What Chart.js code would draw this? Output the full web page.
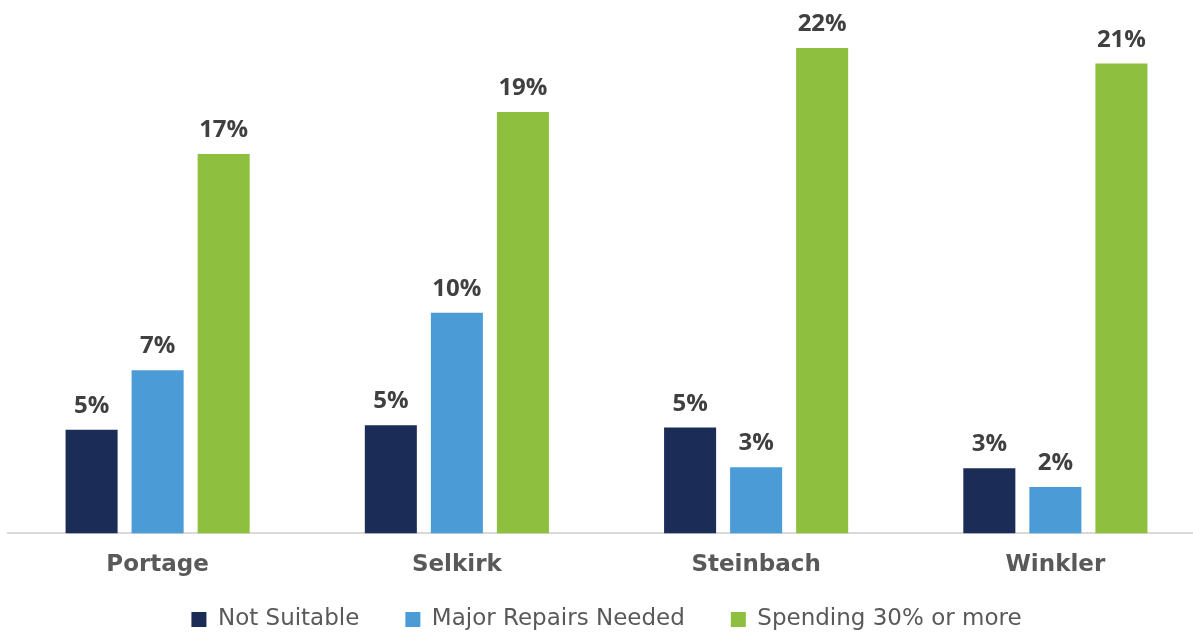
<!DOCTYPE html>
<html lang="en">
<head>
    <meta charset="UTF-8">
    <title>Core housing need by community</title>
    <script src="https://cdn.jsdelivr.net/npm/chart.js"></script>
    <style>
        html, body { margin: 0; padding: 0; background: #fff; overflow: hidden; }
        .wrap { width: 1205px; height: 632px; position: relative; }
    </style>
</head>
<body>
    <div class="wrap">
        <canvas id="chart"></canvas>
    </div>

    <script>
        const communities = ["Portage", "Selkirk", "Steinbach", "Winkler"];
        const notSuitable = [4.7, 4.9, 4.8, 2.95];
        const majorRepairs = [7.4, 10.0, 3.0, 2.1];
        const spending30 = [17.2, 19.1, 22.0, 21.3];
        const shownLabels = {
            notSuitable: ["5%", "5%", "5%", "3%"],
            majorRepairs: ["7%", "10%", "3%", "2%"],
            spending30: ["17%", "19%", "22%", "21%"]
        };

        const FONT = "'Open Sans', 'Noto Sans', sans-serif";
        const WIDE = "'DejaVu Sans', sans-serif";
        const LEGEND_PAD = 46;

        // draws the % labels above each bar
        const barLabels = {
            id: "barLabels",
            afterDatasetsDraw(chart) {
                const ctx = chart.ctx;
                ctx.save();
                ctx.font = "bold 24px " + FONT;
                ctx.fillStyle = "#404040";
                ctx.textAlign = "center";
                ctx.textBaseline = "alphabetic";
                chart.data.datasets.forEach((ds, i) => {
                    chart.getDatasetMeta(i).data.forEach((bar, j) => {
                        ctx.fillText(ds.shown[j], bar.x, bar.y - 17);
                    });
                });
                ctx.restore();
            }
        };

        // wide gaps between legend items without a tall legend box:
        // only the top edge moves up so the items land near the bottom
        const legendShift = {
            id: "legendShift",
            afterLayout(chart) {
                const lg = chart.legend;
                lg.top = lg.bottom - 24 - LEGEND_PAD;
            }
        };

        new Chart(document.getElementById("chart"), {
            type: "bar",
            data: {
                labels: communities,
                datasets: [
                    { label: "Not Suitable", data: notSuitable, shown: shownLabels.notSuitable, backgroundColor: "#1b2d57" },
                    { label: "Major Repairs Needed", data: majorRepairs, shown: shownLabels.majorRepairs, backgroundColor: "#4a9bd6" },
                    { label: "Spending 30% or more", data: spending30, shown: shownLabels.spending30, backgroundColor: "#8fbf3f" }
                ]
            },
            options: {
                responsive: true,
                maintainAspectRatio: false,
                animation: false,
                categoryPercentage: 0.662,
                barPercentage: 0.788,
                layout: { padding: { top: 4, left: 8, right: 0, bottom: 0 } },
                plugins: {
                    legend: {
                        position: "bottom",
                        maxHeight: 35,
                        labels: {
                            font: { family: WIDE, size: 23 },
                            color: "#595959",
                            boxWidth: 15,
                            boxHeight: 15,
                            padding: LEGEND_PAD
                        }
                    },
                    tooltip: { enabled: false }
                },
                scales: {
                    x: {
                        grid: { display: false, drawTicks: false },
                        border: { color: "#d9d9d9", width: 2 },
                        ticks: {
                            font: { family: WIDE, size: 23, weight: "bold" },
                            color: "#595959",
                            padding: 18
                        }
                    },
                    y: {
                        display: false,
                        min: 0,
                        max: 24
                    }
                }
            },
            plugins: [barLabels, legendShift]
        });
    </script>
</body>
</html>
